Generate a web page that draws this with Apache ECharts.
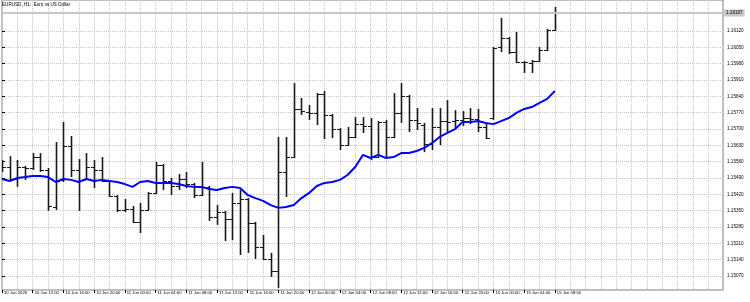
<!DOCTYPE html>
<html>
<head>
<meta charset="utf-8">
<script src="https://cdn.jsdelivr.net/npm/echarts@6/dist/echarts.min.js"></script>
<style>
html, body { margin: 0; padding: 0; background: #fff; }
#chart { width: 750px; height: 302px; }
</style>
</head>
<body>
<div id="chart"></div>
<script>
// EURUSD H1, 10 Jun 08:00 .. 15 Jun 08:00 (one value per hourly bar)
var barOpen = [1.15542, 1.15537, 1.15486, 1.15537, 1.15533, 1.15580, 1.15524, 1.15366, 1.15482, 1.15627,
    1.15524, 1.15486, 1.15537, 1.15524, 1.15477, 1.15413, 1.15353, 1.15357, 1.15302, 1.15353,
    1.15426, 1.15546, 1.15477, 1.15456, 1.15486, 1.15464, 1.15417, 1.15452, 1.15323, 1.15344,
    1.15314, 1.15383, 1.15400, 1.15297, 1.15194, 1.15143, 1.15091, 1.15516, 1.15580, 1.15786,
    1.15773, 1.15769, 1.15850, 1.15760, 1.15700, 1.15631, 1.15666, 1.15721, 1.15713, 1.15580,
    1.15730, 1.15666, 1.15769, 1.15842, 1.15739, 1.15717, 1.15636, 1.15709, 1.15734, 1.15734,
    1.15739, 1.15747, 1.15743, 1.15709, 1.15747, 1.16051, 1.16090, 1.16030, 1.15987, 1.15983,
    1.15991, 1.16039, 1.16124];
var barHigh = [1.15567, 1.15584, 1.15567, 1.15542, 1.15597, 1.15597, 1.15533, 1.15644, 1.15730, 1.15670,
    1.15571, 1.15597, 1.15567, 1.15580, 1.15482, 1.15417, 1.15400, 1.15370, 1.15383, 1.15430,
    1.15559, 1.15550, 1.15490, 1.15507, 1.15516, 1.15469, 1.15559, 1.15456, 1.15374, 1.15349,
    1.15426, 1.15439, 1.15404, 1.15302, 1.15246, 1.15169, 1.15666, 1.15666, 1.15897, 1.15833,
    1.15803, 1.15854, 1.15863, 1.15764, 1.15704, 1.15709, 1.15751, 1.15751, 1.15747, 1.15734,
    1.15739, 1.15854, 1.15897, 1.15846, 1.15790, 1.15726, 1.15790, 1.15790, 1.15824, 1.15781,
    1.15777, 1.15790, 1.15786, 1.15726, 1.16051, 1.16176, 1.16094, 1.16116, 1.15991, 1.15996,
    1.16051, 1.16129, 1.16223];
var barLow = [1.15516, 1.15477, 1.15452, 1.15482, 1.15524, 1.15516, 1.15349, 1.15353, 1.15473, 1.15494,
    1.15349, 1.15482, 1.15447, 1.15473, 1.15409, 1.15344, 1.15344, 1.15297, 1.15254, 1.15349,
    1.15422, 1.15439, 1.15417, 1.15439, 1.15447, 1.15404, 1.15413, 1.15306, 1.15289, 1.15220,
    1.15224, 1.15160, 1.15169, 1.15143, 1.15139, 1.15066, 1.15019, 1.15409, 1.15576, 1.15760,
    1.15739, 1.15717, 1.15657, 1.15661, 1.15610, 1.15627, 1.15661, 1.15683, 1.15567, 1.15576,
    1.15576, 1.15661, 1.15726, 1.15687, 1.15696, 1.15601, 1.15610, 1.15631, 1.15687, 1.15704,
    1.15713, 1.15721, 1.15687, 1.15657, 1.15739, 1.16030, 1.16021, 1.15983, 1.15940, 1.15940,
    1.15987, 1.16034, 1.16120];
var barClose = [1.15537, 1.15486, 1.15537, 1.15533, 1.15580, 1.15524, 1.15370, 1.15477, 1.15627, 1.15524,
    1.15482, 1.15537, 1.15524, 1.15477, 1.15413, 1.15353, 1.15357, 1.15302, 1.15353, 1.15426,
    1.15546, 1.15477, 1.15456, 1.15486, 1.15464, 1.15417, 1.15452, 1.15323, 1.15344, 1.15314,
    1.15383, 1.15400, 1.15297, 1.15194, 1.15143, 1.15091, 1.15516, 1.15580, 1.15786, 1.15777,
    1.15769, 1.15850, 1.15760, 1.15700, 1.15631, 1.15666, 1.15721, 1.15713, 1.15580, 1.15730,
    1.15666, 1.15769, 1.15842, 1.15739, 1.15726, 1.15636, 1.15709, 1.15734, 1.15730, 1.15739,
    1.15747, 1.15743, 1.15709, 1.15661, 1.16047, 1.16090, 1.16030, 1.15987, 1.15987, 1.15991,
    1.16039, 1.16124, 1.16197];
// moving average (blue line)
var maValues = [1.15486, 1.15477, 1.15490, 1.15494, 1.15499, 1.15499, 1.15494, 1.15473, 1.15486, 1.15482,
    1.15473, 1.15486, 1.15477, 1.15482, 1.15477, 1.15473, 1.15464, 1.15452, 1.15473, 1.15477,
    1.15469, 1.15469, 1.15469, 1.15464, 1.15456, 1.15452, 1.15452, 1.15443, 1.15439, 1.15447,
    1.15452, 1.15447, 1.15417, 1.15404, 1.15392, 1.15374, 1.15362, 1.15366, 1.15374, 1.15404,
    1.15426, 1.15456, 1.15469, 1.15473, 1.15482, 1.15503, 1.15537, 1.15589, 1.15576, 1.15589,
    1.15576, 1.15580, 1.15597, 1.15597, 1.15606, 1.15619, 1.15640, 1.15666, 1.15683, 1.15700,
    1.15730, 1.15730, 1.15734, 1.15726, 1.15721, 1.15734, 1.15747, 1.15769, 1.15786, 1.15794,
    1.15812, 1.15829, 1.15863];

var timeLabels = ['10 Jun 2026', '10 Jun 12:00', '10 Jun 16:00', '10 Jun 20:00', '11 Jun 00:00',
    '11 Jun 04:00', '11 Jun 08:00', '11 Jun 12:00', '11 Jun 16:00', '11 Jun 20:00', '12 Jun 00:00',
    '12 Jun 04:00', '12 Jun 08:00', '12 Jun 12:00', '12 Jun 16:00', '12 Jun 20:00', '15 Jun 00:00',
    '15 Jun 04:00', '15 Jun 08:00'];
var timeLabelBars = [0, 4, 8, 12, 16, 20, 24, 28, 32, 36, 40, 44, 48, 52, 56, 60, 64, 68, 72];
var gridBars = [0, 2, 4, 6, 8, 10, 12, 14, 16, 18, 20, 22, 24, 26, 28, 30, 32, 34, 36, 38, 40, 42, 44, 46,
    48, 50, 52, 54, 56, 58, 60, 62, 64, 66, 68, 70, 72, 74, 76, 78, 80, 82, 84, 86, 88, 90, 92];
var priceTicks = [1.15070, 1.15140, 1.15210, 1.15280, 1.15350, 1.15420, 1.15490, 1.15560,
    1.15630, 1.15700, 1.15770, 1.15840, 1.15910, 1.15980, 1.16050, 1.16120];
var lastPrice = 1.16197;

var FONT = 'Liberation Sans, sans-serif';
var X_MIN = 0, X_MAX = 93.9;

var ohlc = barOpen.map(function (o, i) {
    return [i, o, barClose[i], barLow[i], barHigh[i]];
});
var maLine = maValues.map(function (v, i) { return [i, v]; });

function renderBar(params, api) {
    var i = api.value(0);
    var o = api.coord([i, api.value(1)]);
    var c = api.coord([i, api.value(2)]);
    var l = api.coord([i, api.value(3)]);
    var h = api.coord([i, api.value(4)]);
    var x = Math.round(h[0]) + 0.5;
    var yo = Math.round(o[1]) + 0.5;
    var yc = Math.round(c[1]) + 0.5;
    return {
        type: 'group',
        children: [
            { type: 'line', shape: { x1: x, y1: h[1], x2: x, y2: l[1] }, style: { stroke: '#1a1a1a', lineWidth: 1.6 } },
            { type: 'line', shape: { x1: x - 3.5, y1: yo, x2: x, y2: yo }, style: { stroke: '#1a1a1a', lineWidth: 1 } },
            { type: 'line', shape: { x1: x, y1: yc, x2: x + 3.5, y2: yc }, style: { stroke: '#1a1a1a', lineWidth: 1 } }
        ]
    };
}

var chart = echarts.init(document.getElementById('chart'));
chart.setOption({
    animation: false,
    backgroundColor: '#fff',
    title: {
        text: 'EURUSD, H1:  Euro vs US Dollar',
        left: 2,
        top: 2,
        padding: 0,
        textStyle: { fontSize: 4.6, fontWeight: 'normal', color: '#000', fontFamily: FONT }
    },
    grid: {
        left: 2,
        right: 27,
        top: 0,
        bottom: 12,
        show: true,
        borderColor: '#808080',
        borderWidth: 1,
        backgroundColor: '#fff'
    },
    xAxis: [
        {
            type: 'value',
            min: X_MIN,
            max: X_MAX,
            axisLine: { show: false },
            axisTick: { show: false, customValues: gridBars },
            axisLabel: { show: false },
            splitLine: { show: true, lineStyle: { color: '#c8c8c8', type: 'dotted', width: 1 } }
        },
        {
            type: 'value',
            min: X_MIN,
            max: X_MAX,
            position: 'bottom',
            axisLine: { show: false },
            axisTick: { show: true, inside: false, length: 3, customValues: timeLabelBars, lineStyle: { color: '#000' } },
            axisLabel: {
                customValues: timeLabelBars,
                margin: 1,
                align: 'left',
                padding: [0, 0, 0, 2],
                fontSize: 4.2,
                color: '#000',
                fontFamily: FONT,
                formatter: function (v) {
                    return timeLabels[timeLabelBars.indexOf(Math.round(v))] || '';
                }
            },
            splitLine: { show: false }
        }
    ],
    yAxis: {
        type: 'value',
        position: 'right',
        min: 1.1501,
        max: 1.16253,
        axisLine: { show: false },
        axisTick: { show: true, length: 3, customValues: priceTicks, lineStyle: { color: '#000' } },
        axisLabel: {
            customValues: priceTicks,
            margin: 4,
            fontSize: 4.6,
            color: '#000',
            fontFamily: FONT,
            formatter: function (v) { return v.toFixed(5); }
        },
        splitLine: { show: true, lineStyle: { color: '#c8c8c8', type: 'dotted', width: 1 } }
    },
    series: [
        {
            name: 'EURUSD',
            type: 'custom',
            renderItem: renderBar,
            xAxisIndex: 0,
            encode: { x: 0, y: [1, 2, 3, 4] },
            data: ohlc,
            clip: true,
            z: 3
        },
        {
            name: 'MA',
            type: 'line',
            xAxisIndex: 0,
            data: maLine,
            symbol: 'none',
            lineStyle: { color: '#0000ff', width: 2 },
            z: 4,
            markLine: {
                silent: true,
                symbol: 'none',
                lineStyle: { color: '#c8c8c8', type: 'solid', width: 2 },
                label: {
                    position: 'end',
                    distance: 1,
                    fontSize: 4.6,
                    color: '#000',
                    fontFamily: FONT,
                    backgroundColor: '#c8c8c8',
                    padding: [1, 2, 1, 2],
                    formatter: function () { return lastPrice.toFixed(5); }
                },
                data: [[{ coord: [X_MIN, lastPrice] }, { coord: [X_MAX, lastPrice] }]]
            }
        }
    ]
});
</script>
</body>
</html>
